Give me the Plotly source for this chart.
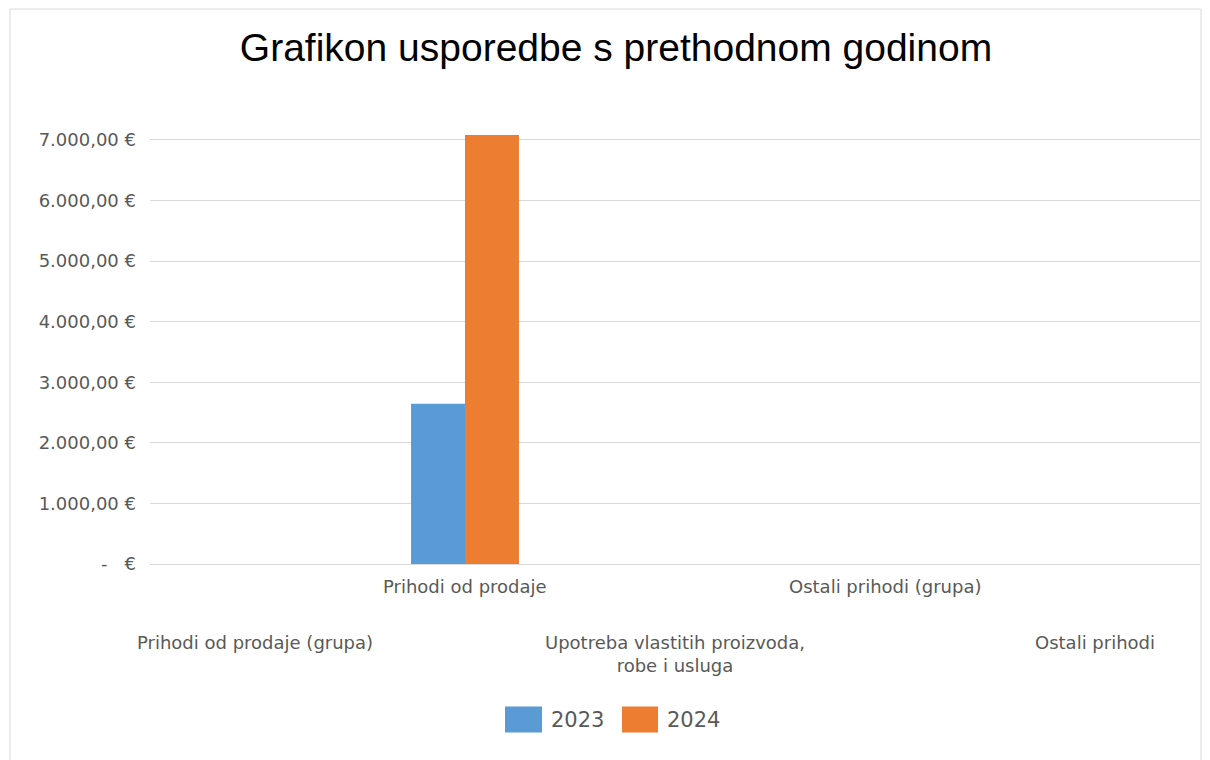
import plotly.graph_objects as go

categories = [
    "Prihodi od prodaje (grupa)",
    "Prihodi od prodaje",
    "Upotreba vlastitih proizvoda,<br>robe i usluga",
    "Ostali prihodi (grupa)",
    "Ostali prihodi",
]
series_names = ["2023", "2024"]
values_2023 = [0, 2645, 0, 0, 0]
values_2024 = [0, 7083, 0, 0, 0]
colors = ["#5b9bd5", "#ed7d31"]
y_ticks = [0, 1000, 2000, 3000, 4000, 5000, 6000, 7000]
y_tick_labels = ["-\u00a0\u00a0\u00a0€", "1.000,00 €", "2.000,00 €", "3.000,00 €",
                 "4.000,00 €", "5.000,00 €", "6.000,00 €", "7.000,00 €"]

OFF = 8  # page body margin
W, H = 1210 - OFF, 760 - OFF
PL, PR, PT, PB = 150, 1200, 130, 564.3  # plot area in screen px
L, R, T, B = PL - OFF, W - (PR - OFF), PT - OFF, H - (PB - OFF)
pw, ph = W - L - R, H - T - B


def px_x(p):
    return (p - PL) / pw


def px_y(p):
    return (PB - p) / ph


fig = go.Figure()
for name, vals, col in zip(series_names, [values_2023, values_2024], colors):
    fig.add_trace(go.Bar(x=categories, y=vals, name=name, marker_color=col,
                         marker_line_width=0, showlegend=False))

# category labels (staggered like Excel)
cat_font = dict(family="DejaVu Sans", size=18, color="#595959")
for i, c in enumerate(categories):
    if i % 2 == 1:
        fig.add_annotation(x=c, y=0, xref="x", yref="paper", text=c, showarrow=False,
                           yanchor="middle", yshift=-(587 - PB), font=cat_font)
    else:
        fig.add_annotation(x=c, y=0, xref="x", yref="paper", text=c, showarrow=False,
                           yanchor="top", yshift=-(630 - PB), font=cat_font)

# chart border
fig.add_shape(type="rect", xref="paper", yref="paper",
              x0=px_x(10), x1=px_x(1201), y0=px_y(780), y1=px_y(9),
              line=dict(color="#d9d9d9", width=1), fillcolor="rgba(0,0,0,0)", layer="below")

# legend
legend_items = [(505, 542, 551), (622, 658, 667)]
for (x0, x1, tx), name, col in zip(legend_items, series_names, colors):
    fig.add_shape(type="rect", xref="paper", yref="paper",
                  x0=px_x(x0), x1=px_x(x1), y0=px_y(733), y1=px_y(707),
                  line=dict(width=0), fillcolor=col)
    fig.add_annotation(x=px_x(tx), y=px_y(720), xref="paper", yref="paper", text=name,
                       showarrow=False, xanchor="left", yanchor="middle", xshift=-2,
                       font=dict(family="DejaVu Sans", size=21, color="#595959"))

fig.update_layout(
    width=W, height=H,
    margin=dict(l=L, r=R, t=T, b=B),
    paper_bgcolor="white", plot_bgcolor="white",
    barmode="group", bargap=0.486, bargroupgap=0,
    title=dict(text="Grafikon usporedbe s prethodnom godinom", x=(616 - OFF) / W, xanchor="center",
               y=1 - (47 - OFF) / H, yanchor="middle",
               font=dict(family="Liberation Sans, Arial", size=39, color="#000000")),
    xaxis=dict(showticklabels=False, showgrid=False, showline=False, zeroline=False,
               range=[-0.5, len(categories) - 0.5], fixedrange=True, automargin=False),
    yaxis=dict(range=[0, 7000 * (PB - PT) / (PB - 140)], tickvals=y_ticks, ticktext=y_tick_labels,
               showgrid=True, gridcolor="#d9d9d9", gridwidth=1, zeroline=True,
               zerolinecolor="#d9d9d9", zerolinewidth=1, showline=False, ticks="",
               ticklabelstandoff=13, automargin=False,
               tickfont=dict(family="DejaVu Sans", size=18, color="#595959")),
)

fig.write_html("out.html")
